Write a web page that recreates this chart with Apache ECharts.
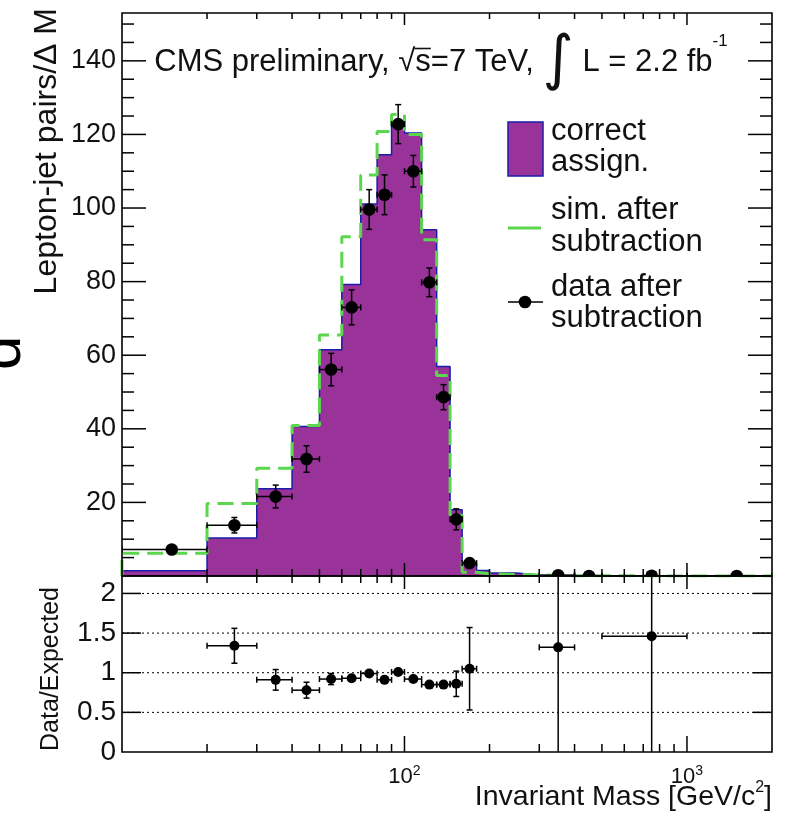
<!DOCTYPE html>
<html>
<head>
<meta charset="utf-8">
<title>Lepton-jet invariant mass</title>
<script src="https://cdn.jsdelivr.net/npm/echarts@6/dist/echarts.min.js"></script>
<style>
  html, body { margin: 0; padding: 0; background: #ffffff; }
  #chart { width: 787px; height: 814px; }
</style>
</head>
<body>
<div id="chart"></div>
<script>
// ---- histogram content -------------------------------------------------
// bin edges in invariant mass [GeV/c^2]
const binEdges = [10, 20, 30, 40, 50, 60, 70, 80, 90, 100, 115, 130, 145, 160, 180, 200, 250, 300, 400, 500, 1000, 2000];
// correctly assigned pairs (filled histogram)
const correctAssign = [1.4, 10.3, 23.7, 40.6, 61.5, 79.2, 101.1, 114.5, 123.5, 120.4, 94.1, 56.9, 18.0, 3.4, 1.5, 0.8, 0.3, 0.15, 0.05, 0.03, 0.02];
// simulation after background subtraction (dashed line)
const simAfterSub = [6.2, 19.7, 29.3, 40.9, 65.5, 92.2, 109.0, 120.8, 125.4, 120.0, 91.4, 54.5, 16.5, 1.0, 0.6, 0.4, 0.3, 0.1, 0.05, 0.02, 0.01];
// data after background subtraction and its uncertainty
const dataAfterSub = [7.2, 13.8, 21.6, 31.8, 56.1, 73.0, 99.6, 103.6, 122.8, 110.0, 79.8, 48.6, 15.4, 3.5, null, null, null, 0.2, 0, 0.05, 0];
const dataErr = [1.4, 2.1, 3.1, 3.6, 4.4, 4.75, 5.4, 5.4, 5.3, 4.3, 3.9, 3.4, 2.85, 1.0, null, null, null, 0.3, 0, 0.1, 0];
// data / expected ratio and its uncertainty
const ratio = [null, 1.34, 0.91, 0.78, 0.92, 0.93, 0.99, 0.91, 1.01, 0.92, 0.85, 0.85, 0.86, 1.05, null, null, null, 1.32, null, 1.46, null];
const ratioErr = [null, 0.22, 0.13, 0.10, 0.07, 0.05, 0.045, 0.04, 0.04, 0.04, 0.04, 0.05, 0.16, 0.52, null, null, null, 1.6, null, 1.6, null];

// ---- axis ticks and labels ---------------------------------------------
const massMajorTicks = [100, 1000];
const massMinorTicks = [20, 30, 40, 50, 60, 70, 80, 90, 200, 300, 400, 500, 600, 700, 800, 900];
const massLabelExponents = [2, 3];
const countMajorTicks = [20, 40, 60, 80, 100, 120, 140];
const countMinorTicks = [5, 10, 15, 25, 30, 35, 45, 50, 55, 65, 70, 75, 85, 90, 95, 105, 110, 115, 125, 130, 135, 145, 150];
const ratioMajorTicks = [0.5, 1, 1.5, 2];
const ratioTickLabels = ['0', '0.5', '1', '1.5', '2'];

// ---- layout -------------------------------------------------------------
const FONT = '"Liberation Sans", Arial, Helvetica, sans-serif';
const INT_FONT = '"DejaVu Sans", sans-serif';
const INK = '#111111';
const PURPLE = '#993399';
const BLUE = '#1c1ca8';
const GREEN = '#5ad64f';
const PAD_L = 122, PAD_W = 650;
const TOP_Y = 13, TOP_H = 563;
const BOT_Y = TOP_Y + TOP_H, BOT_H = 176;

// headline pieces and where the bar of the square root goes
const HEAD_X = 441, HEAD_Y = 62;
const headA = 'CMS preliminary, √s=7 TeV, ', headB = ' L = 2.2 fb';
const measure = (() => {
  const ctx = document.createElement('canvas').getContext('2d');
  return (txt, size, family) => { ctx.font = size + 'px ' + family; return ctx.measureText(txt).width; };
})();
const headWidth = measure(headA, 31, FONT) + measure('∫', 60, INT_FONT) + measure(headB, 31, FONT) + measure('-1', 17, FONT);
const headLeft = HEAD_X - headWidth / 2;
const sqrtBarX1 = headLeft + measure('CMS preliminary, √', 31, FONT) - 1;
const sqrtBarX2 = headLeft + measure('CMS preliminary, √s', 31, FONT);

// step outline (with area) through the bin contents
function stepPoints(vals) {
  const pts = [[binEdges[0], 0]];
  vals.forEach((v, i) => pts.push([binEdges[i], v]));
  pts.push([binEdges[binEdges.length - 1], vals[vals.length - 1]]);
  return pts;
}

// markers with x (bin width) and y error bars, ROOT style with end caps
function errorSeries(values, errors, pad, radius) {
  const items = [];
  values.forEach((v, i) => {
    if (v === null) return;
    items.push([binEdges[i], binEdges[i + 1], v, errors[i] || 0]);
  });
  return {
    type: 'custom',
    xAxisIndex: pad, yAxisIndex: pad,
    clip: true, silent: true, z: 10,
    encode: { x: 0, y: 2 },
    data: items,
    renderItem: function (params, api) {
      const lo = api.value(0), hi = api.value(1), v = api.value(2), e = api.value(3);
      const xc = (lo + hi) / 2;
      const c = api.coord([xc, v]);
      const xl = api.coord([lo, v])[0], xh = api.coord([hi, v])[0];
      const yu = api.coord([xc, v + e])[1], yd = api.coord([xc, v - e])[1];
      const st = { stroke: '#000', lineWidth: 1.5 };
      const cap = 3;
      const ch = [];
      ch.push({ type: 'line', shape: { x1: xl, y1: c[1], x2: xh, y2: c[1] }, style: st });
      ch.push({ type: 'line', shape: { x1: xl, y1: c[1] - cap, x2: xl, y2: c[1] + cap }, style: st });
      ch.push({ type: 'line', shape: { x1: xh, y1: c[1] - cap, x2: xh, y2: c[1] + cap }, style: st });
      if (c[1] - yu > radius) {
        ch.push({ type: 'line', shape: { x1: c[0], y1: yu, x2: c[0], y2: yd }, style: st });
        ch.push({ type: 'line', shape: { x1: c[0] - cap, y1: yu, x2: c[0] + cap, y2: yu }, style: st });
        ch.push({ type: 'line', shape: { x1: c[0] - cap, y1: yd, x2: c[0] + cap, y2: yd }, style: st });
      }
      ch.push({ type: 'circle', shape: { cx: c[0], cy: c[1], r: radius }, style: { fill: '#000' } });
      return { type: 'group', children: ch };
    }
  };
}

// tick marks on the bottom/top edges of a pad
function massTickSeries(pad, ticks, lenBottom, lenTop) {
  return {
    type: 'custom', xAxisIndex: pad, yAxisIndex: pad,
    clip: false, silent: true, z: 20,
    data: ticks.map(t => [t, 0]),
    renderItem: function (params, api) {
      const cs = params.coordSys;
      const x = api.coord([api.value(0), api.value(1)])[0];
      const st = { stroke: '#000', lineWidth: 1.5 };
      return { type: 'group', children: [
        { type: 'line', shape: { x1: x, y1: cs.y + cs.height, x2: x, y2: cs.y + cs.height - lenBottom }, style: st },
        { type: 'line', shape: { x1: x, y1: cs.y, x2: x, y2: cs.y + lenTop }, style: st }
      ] };
    }
  };
}

// tick marks on the left/right edges of a pad
function valueTickSeries(pad, ticks, len) {
  return {
    type: 'custom', xAxisIndex: pad, yAxisIndex: pad,
    clip: false, silent: true, z: 20,
    data: ticks.map(t => [binEdges[0], t]),
    renderItem: function (params, api) {
      const cs = params.coordSys;
      const y = api.coord([api.value(0), api.value(1)])[1];
      const st = { stroke: '#000', lineWidth: 1.5 };
      return { type: 'group', children: [
        { type: 'line', shape: { x1: cs.x, y1: y, x2: cs.x + len, y2: y }, style: st },
        { type: 'line', shape: { x1: cs.x + cs.width, y1: y, x2: cs.x + cs.width - len, y2: y }, style: st }
      ] };
    }
  };
}

function massLabel(v) {
  const e = Math.log10(v);
  const k = Math.round(e);
  if (Math.abs(e - k) < 1e-6 && massLabelExponents.includes(k)) return '{b|10}{s|' + k + '}';
  return '';
}

const hiddenAxisParts = {
  axisLine: { show: false }, axisTick: { show: false },
  minorTick: { show: false }, splitLine: { show: false }
};

const option = {
  animation: false,
  backgroundColor: '#ffffff',
  grid: [
    { left: PAD_L, top: TOP_Y, width: PAD_W, height: TOP_H, outerBoundsMode: 'none', containLabel: false },
    { left: PAD_L, top: BOT_Y, width: PAD_W, height: BOT_H, outerBoundsMode: 'none', containLabel: false }
  ],
  xAxis: [
    Object.assign({ type: 'log', logBase: 10, gridIndex: 0, min: 10, max: 2000, axisLabel: { show: false } }, hiddenAxisParts),
    Object.assign({ type: 'log', logBase: 10, gridIndex: 1, min: 10, max: 2000,
      axisLabel: {
        margin: 12, color: INK, formatter: massLabel,
        rich: {
          b: { fontFamily: FONT, fontSize: 22, color: INK, lineHeight: 26 },
          s: { fontFamily: FONT, fontSize: 14, color: INK, lineHeight: 14, verticalAlign: 'top' }
        }
      } }, hiddenAxisParts)
  ],
  yAxis: [
    Object.assign({ type: 'value', gridIndex: 0, min: 0, max: 153, interval: 20,
      axisLabel: { margin: 6, color: INK, fontFamily: FONT, fontSize: 27,
        formatter: v => countMajorTicks.includes(v) ? String(v) : '' } }, hiddenAxisParts),
    Object.assign({ type: 'value', gridIndex: 1, min: 0, max: 2.22, interval: 0.5,
      axisLabel: { margin: 6, color: INK, fontFamily: FONT, fontSize: 28,
        formatter: v => { const i = Math.round(v / 0.5); return Math.abs(v - i * 0.5) < 1e-9 && i < ratioTickLabels.length ? ratioTickLabels[i] : ''; } } },
      hiddenAxisParts)
  ],
  series: [
    { type: 'line', xAxisIndex: 0, yAxisIndex: 0, data: stepPoints(correctAssign), step: 'end',
      symbol: 'none', silent: true, z: 2,
      lineStyle: { color: BLUE, width: 1.5 }, areaStyle: { color: PURPLE, opacity: 1 } },
    { type: 'line', xAxisIndex: 0, yAxisIndex: 0, data: stepPoints(simAfterSub), step: 'end',
      symbol: 'none', silent: true, z: 3,
      lineStyle: { color: GREEN, width: 3, type: [16, 8] } },
    // dotted reference lines of the ratio pad
    { type: 'custom', xAxisIndex: 1, yAxisIndex: 1, silent: true, z: 1, clip: false,
      data: ratioMajorTicks.map(t => [binEdges[0], t]),
      renderItem: function (params, api) {
        const cs = params.coordSys;
        const y = api.coord([api.value(0), api.value(1)])[1];
        return { type: 'line', shape: { x1: cs.x, y1: y, x2: cs.x + cs.width, y2: y },
          style: { stroke: '#000', lineWidth: 1, lineDash: [2, 3] } };
      } },
    errorSeries(dataAfterSub, dataErr, 0, 6.3),
    errorSeries(ratio, ratioErr, 1, 5),
    massTickSeries(0, massMinorTicks, 7, 6),
    massTickSeries(0, massMajorTicks, 13, 12),
    massTickSeries(1, massMinorTicks, 8, 7),
    massTickSeries(1, massMajorTicks, 16, 13),
    valueTickSeries(0, countMajorTicks, 24),
    valueTickSeries(0, countMinorTicks, 12),
    valueTickSeries(1, ratioMajorTicks, 19)
  ],
  graphic: [
    // pad frames
    { type: 'rect', z: 100, silent: true, shape: { x: PAD_L, y: TOP_Y, width: PAD_W, height: TOP_H },
      style: { fill: 'none', stroke: '#000', lineWidth: 1.6 } },
    { type: 'rect', z: 100, silent: true, shape: { x: PAD_L, y: BOT_Y, width: PAD_W, height: BOT_H },
      style: { fill: 'none', stroke: '#000', lineWidth: 1.6 } },
    // headline
    { type: 'text', z: 100, x: HEAD_X, y: HEAD_Y, silent: true,
      style: {
        text: '{a|' + headA + '}{i|∫}{a|' + headB + '}{s|-1}',
        align: 'center', verticalAlign: 'middle',
        rich: {
          a: { fontFamily: FONT, fontSize: 31, fill: INK, lineHeight: 58 },
          i: { fontFamily: INT_FONT, fontSize: 60, fill: INK, lineHeight: 58 },
          s: { fontFamily: FONT, fontSize: 17, fill: INK, lineHeight: 40, verticalAlign: 'top' }
        }
      } },
    // bar of the square root over "s"
    { type: 'line', z: 100, silent: true, shape: { x1: sqrtBarX1, y1: 48.5, x2: sqrtBarX2, y2: 48.5 },
      style: { stroke: INK, lineWidth: 1.6 } },
    // axis titles
    { type: 'text', z: 100, x: 47, y: 8, rotation: Math.PI / 2, silent: true,
      style: { text: 'Lepton-jet pairs/Δ M', fontFamily: FONT, fontSize: 32, fill: INK, align: 'right', verticalAlign: 'middle' } },
    { type: 'text', z: 100, x: 51, y: 587, rotation: Math.PI / 2, silent: true,
      style: { text: 'Data/Expected', fontFamily: FONT, fontSize: 25, fill: INK, align: 'right', verticalAlign: 'middle' } },
    { type: 'text', z: 100, x: 772, y: 797, silent: true,
      style: {
        text: '{a|Invariant Mass [GeV/c}{s|2}{a|]}', align: 'right', verticalAlign: 'middle',
        rich: {
          a: { fontFamily: FONT, fontSize: 28.5, fill: INK, lineHeight: 34 },
          s: { fontFamily: FONT, fontSize: 16, fill: INK, lineHeight: 22, verticalAlign: 'top' }
        }
      } },
    // fragment of a neighbouring label at the left border
    { type: 'text', z: 100, x: 34, y: 370, rotation: Math.PI / 2, silent: true,
      style: { text: 'd', fontFamily: FONT, fontSize: 62, fill: '#000', align: 'left', verticalAlign: 'bottom' } },
    // legend
    { type: 'rect', z: 100, silent: true, shape: { x: 508, y: 122, width: 35, height: 54 },
      style: { fill: PURPLE, stroke: BLUE, lineWidth: 1.5 } },
    { type: 'text', z: 100, x: 551, y: 147, silent: true,
      style: { text: 'correct\nassign.', fontFamily: FONT, fontSize: 31, lineHeight: 31, fill: INK, align: 'left', verticalAlign: 'middle' } },
    { type: 'line', z: 100, silent: true, shape: { x1: 508, y1: 228, x2: 541, y2: 228 },
      style: { stroke: GREEN, lineWidth: 3 } },
    { type: 'text', z: 100, x: 551, y: 226, silent: true,
      style: { text: 'sim. after\nsubtraction', fontFamily: FONT, fontSize: 31, lineHeight: 32, fill: INK, align: 'left', verticalAlign: 'middle' } },
    { type: 'line', z: 100, silent: true, shape: { x1: 508, y1: 302, x2: 543, y2: 302 },
      style: { stroke: '#000', lineWidth: 1.5 } },
    { type: 'circle', z: 100, silent: true, shape: { cx: 525, cy: 302, r: 6.3 }, style: { fill: '#000' } },
    { type: 'text', z: 100, x: 551, y: 303, silent: true,
      style: { text: 'data after\nsubtraction', fontFamily: FONT, fontSize: 31, lineHeight: 31, fill: INK, align: 'left', verticalAlign: 'middle' } }
  ]
};

const chart = echarts.init(document.getElementById('chart'), null, { renderer: 'canvas' });
chart.setOption(option);
</script>
</body>
</html>
